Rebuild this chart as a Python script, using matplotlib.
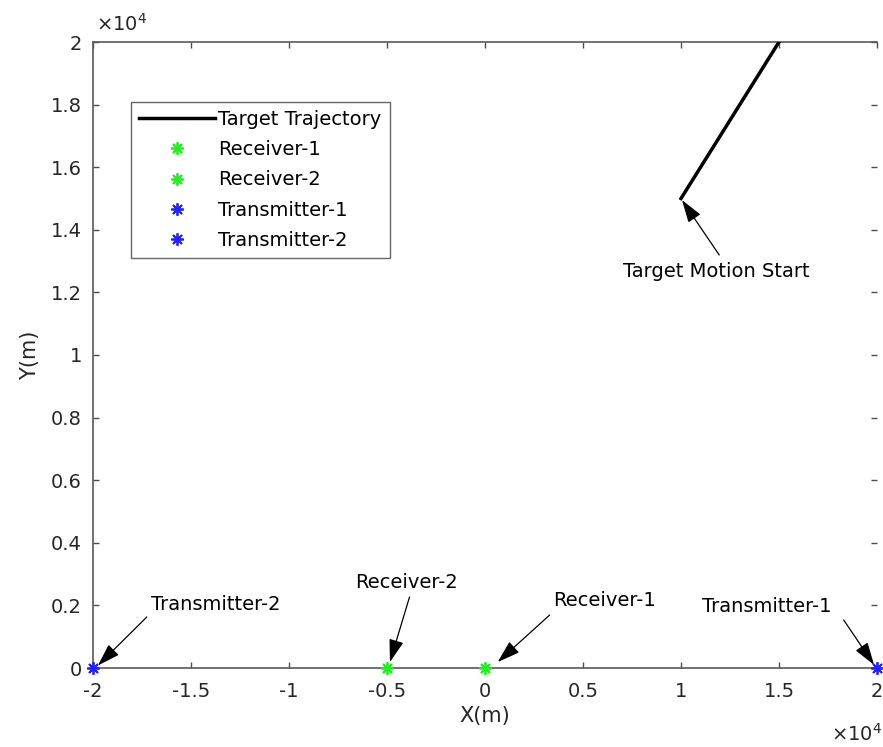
import numpy as np
import matplotlib
matplotlib.use("Agg")
from matplotlib import pyplot as plt
from matplotlib.ticker import FuncFormatter

# trayectoria del blanco (m)
traj_x = [10000, 15000]
traj_y = [15000, 20000]

# estaciones
station_names = ["Receiver-1", "Receiver-2", "Transmitter-1", "Transmitter-2"]
station_x = [0, -5000, 20000, -20000]
station_y = [0, 0, 0, 0]
station_colors = ["#22ee22", "#22ee22", "#2222ff", "#2222ff"]

# anotaciones: texto, centro del texto, cola y punta de la flecha
notes = [
    ("Target Motion Start", (11800, 12652), (11950, 13195), (10050, 14950)),
    ("Transmitter-2", (-13750, 2013), (-17255, 1629), (-19750, 80)),
    ("Receiver-2", (-4000, 2716), (-3850, 2268), (-4850, 190)),
    ("Receiver-1", (6100, 2172), (3300, 1693), (650, 190)),
    ("Transmitter-1", (14350, 1949), (18300, 1534), (19850, 100)),
]

x_ticks = np.arange(-20000, 20001, 5000)
y_ticks = np.arange(0, 20001, 2000)

plt.rcParams['font.family'] = ['DejaVu Sans']
txt = '#262626'
fs = 14

fig = plt.figure(figsize=(8.83, 7.47), dpi=100)
ax = fig.add_axes([93/883, 1-668/747, (877-93)/883, (668-42)/747])

ax.plot(traj_x, traj_y, color='k', lw=2.5, label='Target Trajectory', zorder=3)
for n, x, y, c in zip(station_names, station_x, station_y, station_colors):
    ax.plot([x], [y], marker=(8, 2, 0), ls='none', color=c, ms=9, mew=1.3,
            label=n, clip_on=False, zorder=4)

ax.set_xlim(-20000, 20000)
ax.set_ylim(0, 20000)
ax.set_xticks(x_ticks)
ax.set_yticks(y_ticks)
fmt = FuncFormatter(lambda v, p: f'{v/1e4:g}')
ax.xaxis.set_major_formatter(fmt)
ax.yaxis.set_major_formatter(fmt)
ax.tick_params(direction='in', length=4.5, width=1, colors='0.3',
               labelcolor=txt, labelsize=fs, top=True, right=True)
ax.tick_params(axis='y', pad=8)
ax.tick_params(axis='x', pad=10)
for s in ax.spines.values():
    s.set_color('0.35')
    s.set_linewidth(1.2)
ax.spines['right'].set_visible(False)

ax.set_xlabel('X(m)', fontsize=15, color=txt, labelpad=4)
ax.set_ylabel('Y(m)', fontsize=15, color=txt, labelpad=8)

fig.text(96/883, 1-35/747, '×10$^4$', fontsize=fs, color=txt, va='bottom')
fig.text(882/883, 2/747, '×10$^4$', fontsize=fs, color=txt, va='bottom', ha='right')

for label, tpos, tail, head in notes:
    ax.text(tpos[0], tpos[1], label, fontsize=fs, color='k', ha='center', va='center')
    ax.annotate('', xy=head, xytext=tail,
                arrowprops=dict(arrowstyle='-|>,head_length=1.4,head_width=0.45',
                                color='k', lw=0.9, shrinkA=0, shrinkB=0),
                annotation_clip=False)

leg = ax.legend(loc='upper left', bbox_to_anchor=(38/784, 566/626), fontsize=fs,
                handlelength=3.9, handletextpad=0.2, borderpad=0.4,
                labelspacing=0.58, fancybox=False, framealpha=1, borderaxespad=0)
leg.get_frame().set_edgecolor('0.4')
leg.get_frame().set_linewidth(1.0)
for t in leg.get_texts():
    t.set_color('k')

fig.savefig('out.png', dpi=100)
